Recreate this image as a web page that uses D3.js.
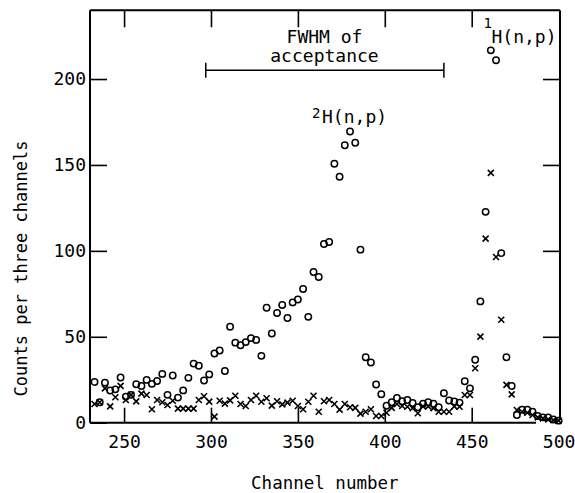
<!DOCTYPE html>
<html>
<head>
<meta charset="utf-8">
<script src="https://cdn.jsdelivr.net/npm/d3@7"></script>
<style>
    body { margin: 0; background: #fff; }
    svg text { font-family: "DejaVu Sans Mono", monospace; fill: #000; }
</style>
</head>
<body>
<div id="chart"></div>
<script>
// Channel of each three-channel bin.
const channels = [233, 236, 239, 242, 245, 248, 251, 254, 257, 260,
    263, 266, 269, 272, 275, 278, 281, 284, 287, 290,
    293, 296, 299, 302, 305, 308, 311, 314, 317, 320,
    323, 326, 329, 332, 335, 338, 341, 344, 347, 350,
    353, 356, 359, 362, 365, 368, 371, 374, 377, 380,
    383, 386, 389, 392, 395, 398, 401, 404, 407, 410,
    413, 416, 419, 422, 425, 428, 431, 434, 437, 440,
    443, 446, 449, 452, 455, 458, 461, 464, 467, 470,
    473, 476, 479, 482, 485, 488, 491, 494, 497, 500];

// Counts drawn as open circles.
const circleCounts = [23.7, 11.9, 23.3, 18.7, 19.4, 26.3, 15.2, 16.2, 22.4, 21.4,
    24.9, 22.6, 24.3, 28.4, 16.2, 27.5, 14.6, 18.8, 26.1, 34.4,
    33.1, 24.6, 28.1, 40.3, 42, 30.1, 55.8, 46.6, 45.1, 46.9,
    49.2, 48.2, 38.9, 66.9, 51.9, 63.8, 68.5, 60.9, 70, 71.7,
    77.8, 61.6, 87.7, 84.8, 104, 105.2, 150.7, 143.1, 161.5, 169.5,
    162.9, 100.7, 38.1, 35, 22.2, 16.6, 9.9, 11.9, 14.4, 12.5,
    13.2, 11.5, 9, 11, 12, 11, 9, 17.1, 12.9, 12.3,
    11.7, 24.1, 20, 36.6, 70.6, 122.7, 216.7, 210.9, 98.7, 38.1,
    21.4, 4.5, 7.6, 7.6, 6.4, 3.9, 3.1, 3.1, 1.9, 1.2];

// Counts drawn as crosses.
const crossCounts = [10.9, 11.9, 20, 9.5, 14.8, 21.4, 13.2, 16.2, 12.4, 16.9,
    16.1, 7.8, 13.2, 11.9, 10.3, 12.8, 8.2, 8.2, 8.2, 8.2,
    13.2, 15.4, 12.3, 3.5, 12.8, 11.1, 13, 15.7, 10.9, 9.7,
    13.2, 15.7, 12.2, 14.2, 9.9, 12.5, 10.7, 11.7, 12.8, 9.7,
    7.8, 12.2, 15.7, 6.4, 12.5, 13.2, 10.9, 7.6, 10.9, 9,
    8.6, 5.3, 6.4, 7.8, 3.9, 3.9, 5.8, 8.6, 10.9, 9.7,
    9.3, 8.4, 5.5, 9.5, 9.5, 8.5, 6.4, 6.4, 6.4, 9.5,
    9.3, 16.1, 16.1, 31.7, 50.1, 107.1, 145.4, 96.4, 59.9, 22,
    16.5, 7.4, 6.4, 5.8, 4.5, 3.1, 2.5, 1.9, 1.5, 1.2];

const xTicks = [250, 300, 350, 400, 450, 500];
const yTicks = [0, 50, 100, 150, 200];
const fwhmRange = [297, 434];

// Set the dimensions and margins of the graph.
const totalWidth = 575;
const totalHeight = 493;
const margin = {top: 10.3, right: 15, bottom: 70.3, left: 90};
const width = totalWidth - margin.left - margin.right;
const height = totalHeight - margin.top - margin.bottom;

const svg = d3.select('#chart')
    .append('svg')
        .attr('width', totalWidth)
        .attr('height', totalHeight)
    .append('g')
        .attr('transform', `translate(${margin.left},${margin.top})`);

// Set the x and y scales.
const x = d3.scaleLinear().domain([230.4, 500.8]).range([0, width]);
const y = d3.scaleLinear().domain([0, 240]).range([height, 0]);

// Axes with the ticks pointing inwards on all four sides.
const bottomAxis = svg.append('g')
    .attr('transform', `translate(0,${height})`)
    .style('font-size', '18px')
    .call(d3.axisBottom(x).tickValues(xTicks).tickSizeInner(-15).tickSizeOuter(0).tickPadding(12.5));
bottomAxis.selectAll('.tick').filter(d => d === 500).select('line').remove();

svg.append('g')
    .call(d3.axisTop(x).tickValues(xTicks.slice(0, -1)).tickSizeInner(-17).tickSizeOuter(0).tickFormat(''));

svg.append('g')
    .style('font-size', '18px')
    .call(d3.axisLeft(y).tickValues(yTicks).tickSizeInner(-17).tickSizeOuter(0).tickPadding(4));

svg.append('g')
    .attr('transform', `translate(${width},0)`)
    .call(d3.axisRight(y).tickValues(yTicks.slice(1)).tickSizeInner(-17).tickSizeOuter(0).tickFormat(''));

svg.selectAll('.domain').remove();
svg.selectAll('.tick line').attr('stroke', '#000').attr('stroke-width', 1.6);
svg.selectAll('.tick text').attr('fill', '#000');

// Frame (the bottom line stops short of the right border, as in the print).
const frame = svg.append('g')
    .attr('stroke', '#000')
    .attr('stroke-width', 2)
    .attr('fill', 'none');
frame.append('line').attr('x1', 0).attr('x2', width).attr('y1', 0).attr('y2', 0);
frame.append('line').attr('x1', 0).attr('x2', 0).attr('y1', 0).attr('y2', height);
frame.append('line').attr('x1', width).attr('x2', width).attr('y1', 0).attr('y2', y(1.5));
frame.append('line').attr('x1', 0).attr('x2', x(487)).attr('y1', height).attr('y2', height);

// Cross markers.
svg.append('g')
    .selectAll('path')
    .data(channels.map((c, i) => ({channel: c, value: crossCounts[i]})))
    .enter()
    .append('path')
        .attr('transform', d => `translate(${x(d.channel)},${y(d.value)})`)
        .attr('d', 'M-3,-3L3,3M-3,3L3,-3')
        .attr('stroke', '#000')
        .attr('stroke-width', 1.6)
        .attr('fill', 'none');

// Circle markers.
svg.append('g')
    .selectAll('circle')
    .data(channels.map((c, i) => ({channel: c, value: circleCounts[i]})))
    .enter()
    .append('circle')
        .attr('cx', d => x(d.channel))
        .attr('cy', d => y(d.value))
        .attr('r', 3.2)
        .attr('stroke', '#000')
        .attr('stroke-width', 1.5)
        .attr('fill', 'none');

// FWHM of acceptance bar.
const fwhmY = y(205.1);
const bar = svg.append('g').attr('stroke', '#000').attr('stroke-width', 1.5);
bar.append('line').attr('x1', x(fwhmRange[0])).attr('x2', x(fwhmRange[1])).attr('y1', fwhmY).attr('y2', fwhmY);
fwhmRange.forEach(c => {
    bar.append('line').attr('x1', x(c)).attr('x2', x(c)).attr('y1', fwhmY - 7.5).attr('y2', fwhmY + 7.5);
});

svg.append('text')
    .attr('x', x(365.3)).attr('y', y(220.8))
    .attr('text-anchor', 'middle')
    .style('font-size', '18px')
    .text('FWHM of');
svg.append('text')
    .attr('x', x(365.3)).attr('y', y(209.7))
    .attr('text-anchor', 'middle')
    .style('font-size', '18px')
    .text('acceptance');

// Peak labels with raised mass numbers.
svg.append('text')
    .attr('x', x(363.9)).attr('y', y(174.2))
    .style('font-size', '18px')
    .text('H(n,p)');
svg.append('text')
    .attr('x', x(363.9) - 10).attr('y', y(174.2) - 5)
    .style('font-size', '14px')
    .text('2');

svg.append('text')
    .attr('x', x(461.4)).attr('y', y(220.8))
    .style('font-size', '18px')
    .text('H(n,p)');
svg.append('text')
    .attr('x', x(461.4) - 8).attr('y', y(220.8) - 15)
    .style('font-size', '14px')
    .text('1');

// Axis titles.
svg.append('text')
    .attr('x', x(365.5))
    .attr('y', height + 66.5)
    .attr('text-anchor', 'middle')
    .style('font-size', '17.5px')
    .text('Channel number');

svg.append('text')
    .attr('transform', `translate(${-63},${height / 2 + 52}) rotate(-90)`)
    .attr('text-anchor', 'middle')
    .style('font-size', '17px')
    .text('Counts per three channels');
</script>
</body>
</html>
